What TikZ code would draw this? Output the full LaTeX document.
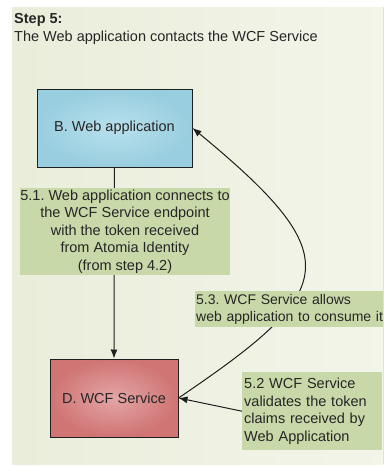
\documentclass[tikz,border=0pt]{standalone}
\usepackage{fontspec}
\setmainfont{Liberation Sans}
\usetikzlibrary{arrows.meta}
\definecolor{bgA}{HTML}{EAEDDA}
\definecolor{bgB}{HTML}{F3F5EA}
\definecolor{lbl}{HTML}{C8D8A8}
\definecolor{blueO}{HTML}{98CEDF}
\definecolor{blueI}{HTML}{B9E0EC}
\definecolor{redO}{HTML}{D07474}
\definecolor{redI}{HTML}{E4A5A5}
\definecolor{ink}{HTML}{262626}
\definecolor{edge}{HTML}{1E1E1E}
\frenchspacing
\begin{document}
\begin{tikzpicture}[x=1pt,y=-1pt,
  font=\fontsize{14.5}{17.6}\selectfont,
  blockbox/.style={draw=edge, line width=1pt, text=ink, inner sep=0pt},
  lblbox/.style={fill=lbl, text=ink, inner sep=0pt},
  conn/.style={draw=edge, line width=1pt, -{Latex[length=9pt,width=7pt]}}]
\useasboundingbox (0,0) rectangle (383,466);
\clip (0,0) rectangle (383,466);
\fill[left color=bgA, right color=bgB] (12,7) rectangle (395,464);
\node[anchor=base west, text=ink, inner sep=0pt] (title) at (14,23) {\textbf{Step 5:}};
\node[anchor=base west, text=ink, inner sep=0pt] (subtitle) at (14,41) {The Web application contacts the WCF Service};
\node[blockbox, inner color=blueI, outer color=blueO, minimum width=155pt, minimum height=78pt] (web) at (114.5,128) {B. Web application};
\node[blockbox, inner color=redI, outer color=redO, minimum width=128pt, minimum height=78pt] (wcf) at (114,398) {D. WCF Service};
\draw[conn] (web.south) -- (wcf.north);
\draw[conn] (wcf.east) .. controls (338,290) and (350,258) .. (web.east);
\node[lblbox, minimum width=210pt, minimum height=87pt, align=center] (l51) at (125,231.5)
  {5.1. Web application connects to\\the WCF Service endpoint\\with the token received\\from Atomia Identity\\(from step 4.2)};
\node[lblbox, anchor=north west, minimum width=200pt, minimum height=36pt, text width=198pt, inner xsep=1pt, align=left, font=\fontsize{14}{17.4}\selectfont] (l53) at (195,291)
  {5.3. WCF Service allows\\web application to consume it};
\node[lblbox, anchor=north west, minimum width=139pt, minimum height=78pt, text width=136pt, inner xsep=2pt, align=left] (l52) at (242,372)
  {5.2 WCF Service\\validates the token\\claims received by\\Web Application};
\draw[conn] (l52.west) -- (wcf.east);
\end{tikzpicture}
\end{document}
